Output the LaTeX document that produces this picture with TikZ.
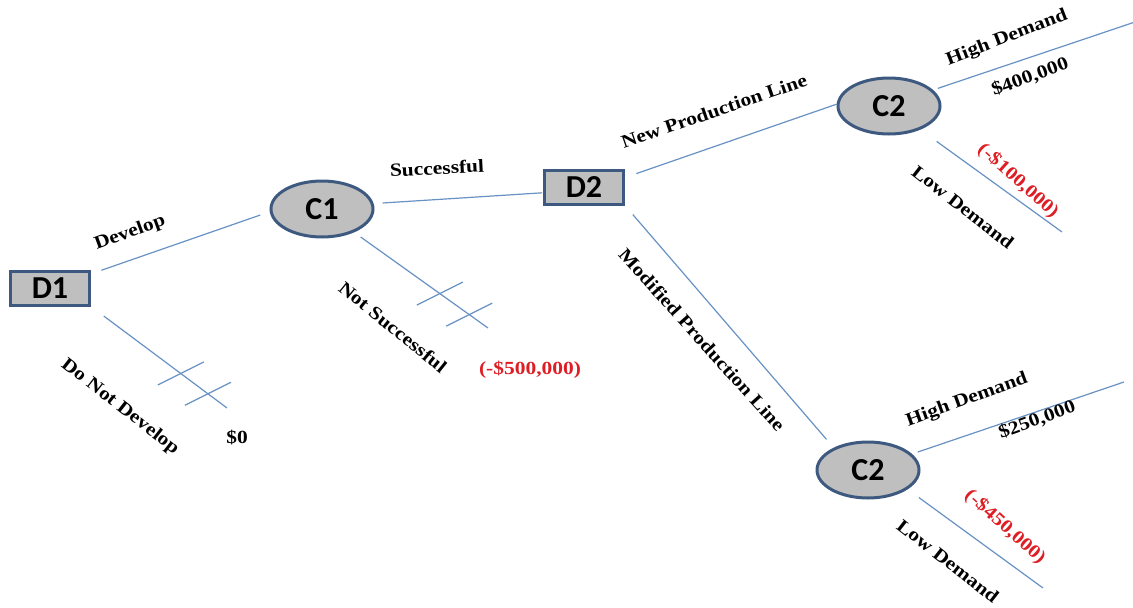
\documentclass[tikz,border=0pt]{standalone}
\usepackage{fontspec}
\setmainfont{Liberation Serif}
\newfontfamily\lblfont{Liberation Serif}[FakeStretch=1.16]
\newfontfamily\boxfont{Carlito}
\usetikzlibrary{calc,shapes.geometric}
\definecolor{branchblue}{RGB}{104,145,196}
\definecolor{nodeedge}{RGB}{62,89,128}
\definecolor{nodefill}{RGB}{191,191,191}
\definecolor{lossred}{RGB}{222,30,36}

\begin{document}
\begin{tikzpicture}[
    x=1pt, y=-1pt,
    branch/.style={draw=branchblue, line width=1.2pt},
    D/.style={rectangle, draw=nodeedge, fill=nodefill, line width=3pt, minimum width=79pt, minimum height=34pt, inner sep=0pt, font=\boxfont\bfseries\fontsize{32}{32}\selectfont},
    C/.style={ellipse, draw=nodeedge, fill=nodefill, line width=3pt, minimum width=102pt, minimum height=56pt, inner sep=0pt, font=\boxfont\bfseries\fontsize{32}{32}\selectfont},
    lbl/.style={font=\lblfont\bfseries\fontsize{18.5}{22}\selectfont, inner sep=0pt},
    pay/.style={lbl},
    loss/.style={lbl, text=lossred},
]
\useasboundingbox (0,0) rectangle (1133,608);

\node[D] (d1) at (50,288) {D1};
\node[C] (c1) at (322,209) {C1};
\node[D] (d2) at (584,187) {D2};
\node[C] (c2a) at (889,106) {C2};
\node[C] (c2b) at (868,470) {C2};

\coordinate (d1end) at (227,408);
\coordinate (c1end) at (488,328);
\coordinate (c2ahi) at (1135,22);
\coordinate (c2alo) at (1062,232);
\coordinate (c2bhi) at (1124,382);
\coordinate (c2blo) at (1043,588);

% branches
\draw[branch, shorten <=11pt, shorten >=10pt] (d1.19) -- (c1.183);
\draw[branch, shorten <=16pt] (d1.south east) -- (d1end);
\draw[branch, shorten <=9pt, shorten >=1pt] (c1.6) -- (d2.188);
\draw[branch, shorten <=8pt] (c1.-36) -- (c1end);
\draw[branch, shorten <=12pt] (d2.13) -- (c2a.178);
\draw[branch, shorten <=12pt, shorten >=11pt] (d2.south east) -- (c2b.147);
\draw[branch, shorten <=5pt] (c2a.20) -- (c2ahi);
\draw[branch, shorten <=20pt] (c2a.-37) -- (c2alo);
\draw[branch, shorten <=6pt] (c2b.20) -- (c2bhi);
\draw[branch, shorten <=14pt] (c2b.-26) -- (c2blo);

% pruned branches
\draw[branch] ($(d1.south east)!0.66!(d1end)$) +(-23,11.5) -- +(23,-11.5);
\draw[branch] ($(d1.south east)!0.86!(d1end)$) +(-23,11.5) -- +(23,-11.5);
\draw[branch] ($(c1.-36)!0.64!(c1end)$) +(-23,11.5) -- +(23,-11.5);
\draw[branch] ($(c1.-36)!0.86!(c1end)$) +(-23,11.5) -- +(23,-11.5);

\node[lbl, rotate=20] (develop) at (130,233) {Develop};
\node[lbl, rotate=-38] (nodevelop) at (120,407) {Do Not Develop};
\node[pay] (pay0) at (237,438) {\$0};
\node[lbl, rotate=3] (succ) at (437,168) {Successful};
\node[lbl, rotate=-39] (notsucc) at (393,327) {Not Successful};
\node[loss] (loss500) at (530,370) {(-\$500,000)};
\node[lbl, rotate=19] (newline) at (714,111) {New Production Line};
\node[lbl, rotate=-48] (modline) at (702,340) {Modified Production Line};
\node[lbl, rotate=21] (hi1) at (1007,38) {High Demand};
\node[pay, rotate=20] (pay400) at (1030,77) {\$400,000};
\node[loss, rotate=-42] (loss100) at (1018,181) {(-\$100,000)};
\node[lbl, rotate=-38] (lo1) at (963,207) {Low Demand};
\node[lbl, rotate=20] (hi2) at (967,400) {High Demand};
\node[pay, rotate=20] (pay250) at (1037,420) {\$250,000};
\node[loss, rotate=-42] (loss450) at (1005,527) {(-\$450,000)};
\node[lbl, rotate=-38] (lo2) at (948,561) {Low Demand};
\end{tikzpicture}
\end{document}
